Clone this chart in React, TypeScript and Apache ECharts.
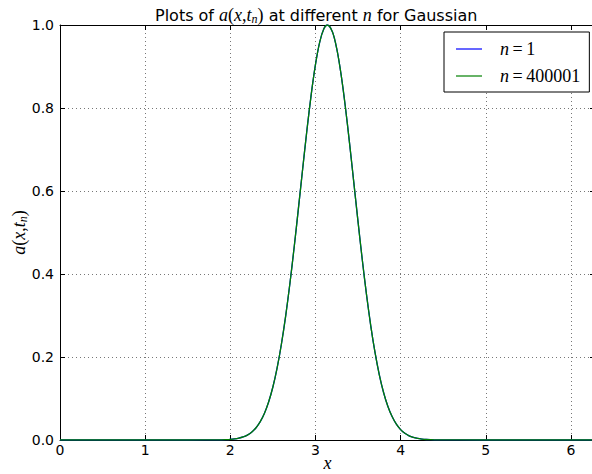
import React, { useEffect, useRef } from "react";
import * as echarts from "echarts";

// sample positions along x (0 .. 2*pi)
const xValues = [
  0, 0.5, 1.0, 1.5, 1.9, 1.95, 2.0, 2.05, 2.1, 2.15, 2.2, 2.25, 2.3, 2.35, 2.4, 2.45,
  2.5, 2.55, 2.6, 2.65, 2.7, 2.75, 2.8, 2.85, 2.9, 2.95, 3.0, 3.05, 3.1, 3.14, 3.2,
  3.25, 3.3, 3.35, 3.4, 3.45, 3.5, 3.55, 3.6, 3.65, 3.7, 3.75, 3.8, 3.85, 3.9, 3.95,
  4.0, 4.05, 4.1, 4.15, 4.2, 4.25, 4.3, 4.35, 4.4, 5.0, 5.5, 6.0, 6.283,
];

// a(x, t_n) for n = 1
const n1Values = [
  0, 0, 0, 0, 0.00045, 0.00083, 0.00148, 0.00258, 0.00441, 0.00733, 0.0119, 0.0188,
  0.029, 0.0436, 0.0639, 0.0915, 0.1277, 0.1738, 0.2307, 0.2987, 0.3772, 0.4645,
  0.558, 0.6537, 0.7469, 0.8323, 0.9046, 0.9589, 0.9914, 1.0, 0.9831, 0.9429, 0.8821,
  0.8048, 0.7161, 0.6215, 0.5261, 0.4343, 0.3497, 0.2746, 0.2103, 0.1571, 0.1145,
  0.0813, 0.0564, 0.0381, 0.0251, 0.0162, 0.0101, 0.0062, 0.0037, 0.0022, 0.0012,
  0.0007, 0.0004, 0, 0, 0, 0,
];

// a(x, t_n) for n = 400001
const n400001Values = [
  0, 0, 0, 0, 0.00045, 0.00083, 0.00148, 0.00258, 0.00441, 0.00733, 0.0119, 0.0188,
  0.029, 0.0436, 0.0639, 0.0915, 0.1277, 0.1738, 0.2307, 0.2987, 0.3772, 0.4645,
  0.558, 0.6537, 0.7469, 0.8323, 0.9046, 0.9589, 0.9914, 1.0, 0.9831, 0.9429, 0.8821,
  0.8048, 0.7161, 0.6215, 0.5261, 0.4343, 0.3497, 0.2746, 0.2103, 0.1571, 0.1145,
  0.0813, 0.0564, 0.0381, 0.0251, 0.0162, 0.0101, 0.0062, 0.0037, 0.0022, 0.0012,
  0.0007, 0.0004, 0, 0, 0, 0,
];

const seriesNames = ["n=1", "n=400001"];
const xTickValues = [0, 1, 2, 3, 4, 5, 6];

const SANS = "DejaVu Sans";
const SERIF = "Liberation Serif";

const mathRich = {
  s: { fontFamily: SANS, fontSize: 16, fontWeight: "normal", color: "#000" },
  m: { fontFamily: SERIF, fontStyle: "italic", fontWeight: "normal", fontSize: 18, color: "#000" },
  u: { fontFamily: SERIF, fontWeight: "normal", fontSize: 18, color: "#000" },
  sub: {
    fontFamily: SERIF,
    fontStyle: "italic",
    fontWeight: "normal",
    fontSize: 12,
    color: "#000",
    padding: [8, 0, 0, 0],
  },
};

export default function App() {
  const ref = useRef<HTMLDivElement>(null);

  useEffect(() => {
    const chart = echarts.init(ref.current!, null, { renderer: "svg" });
    const pairs = (ys: number[]) => xValues.map((x, i) => [x, ys[i]]);

    const gridLine = {
      show: true,
      lineStyle: { color: "#777", type: [1, 3], width: 1 },
    };
    const frameLine = { show: true, onZero: false, lineStyle: { color: "#000", width: 1 } };
    const innerTick = { show: true, inside: true, length: 5, lineStyle: { color: "#000" } };
    const tickFont = { fontFamily: SANS, fontSize: 14, color: "#000" };

    chart.setOption({
      animation: false,
      backgroundColor: "#fff",
      title: {
        text:
          "{s|Plots of }{m|a}{u|(}{m|x}{u|,}{m|t}{sub|n}{u|)}{s| at different }{m|n}{s| for Gaussian}",
        left: 150,
        top: 0,
        textStyle: { fontWeight: "normal", rich: mathRich },
      },
      legend: {
        orient: "vertical",
        left: 444,
        top: 32,
        padding: [8, 9, 7, 12],
        itemGap: 9,
        itemWidth: 26,
        itemHeight: 1.2,
        icon: "rect",
        borderColor: "#000",
        borderWidth: 1,
        borderRadius: 0,
        backgroundColor: "#fff",
        data: seriesNames,
        formatter: (name: string) => {
          const [lhs, rhs] = name.split("=");
          return `{m|${lhs}}{u|\u2009=\u2009${rhs}}`;
        },
        textStyle: {
          lineHeight: 16,
          padding: [0, 0, 0, 13],
          rich: {
            m: { fontFamily: SERIF, fontStyle: "italic", fontSize: 18, color: "#000" },
            u: { fontFamily: SERIF, fontSize: 18, color: "#000" },
          },
        },
      },
      grid: {
        left: 60,
        top: 25,
        width: 535,
        height: 415,
        containLabel: false,
        outerBoundsMode: "none",
      },
      xAxis: [
        {
          type: "value",
          min: 0,
          max: 6.283,
          interval: 1,
          name: "{m|x}",
          nameLocation: "middle",
          nameGap: 14,
          nameMoveOverlap: false,
          nameTextStyle: { rich: mathRich },
          axisLine: frameLine,
          axisTick: innerTick,
          axisLabel: {
            ...tickFont,
            showMaxLabel: false,
            margin: 3,
            formatter: (v: number) => (xTickValues.includes(v) ? String(v) : ""),
          },
          splitLine: gridLine,
        },
        {
          type: "value",
          position: "top",
          min: 0,
          max: 6.283,
          interval: 1,
          axisLine: frameLine,
          axisTick: innerTick,
          axisLabel: { show: false },
          splitLine: { show: false },
        },
      ],
      yAxis: [
        {
          type: "value",
          min: 0,
          max: 1,
          interval: 0.2,
          name: "{m|a}{u|(}{m|x}{u|,}{m|t}{sub|n}{u|)}",
          nameLocation: "middle",
          nameRotate: 90,
          nameGap: 31,
          nameMoveOverlap: false,
          nameTextStyle: { rich: mathRich },
          axisLine: frameLine,
          axisTick: innerTick,
          axisLabel: {
            ...tickFont,
            margin: 6,
            formatter: (v: number) => v.toFixed(1),
          },
          splitLine: gridLine,
        },
        {
          type: "value",
          position: "right",
          min: 0,
          max: 1,
          interval: 0.2,
          axisLine: frameLine,
          axisTick: innerTick,
          axisLabel: { show: false },
          splitLine: { show: false },
        },
      ],
      series: [
        {
          name: seriesNames[0],
          type: "line",
          data: pairs(n1Values),
          symbol: "none",
          smooth: 0.3,
          color: "#0000ff",
          lineStyle: { color: "#0000ff", width: 1.3 },
          z: 3,
        },
        {
          name: seriesNames[1],
          type: "line",
          data: pairs(n400001Values),
          symbol: "none",
          smooth: 0.3,
          color: "#008000",
          lineStyle: { color: "#008000", width: 1.3 },
          z: 4,
        },
      ],
    });

    return () => chart.dispose();
  }, []);

  return (
    <div
      ref={ref}
      style={{ position: "absolute", left: 0, top: 0, width: 592, height: 474 }}
    />
  );
}
